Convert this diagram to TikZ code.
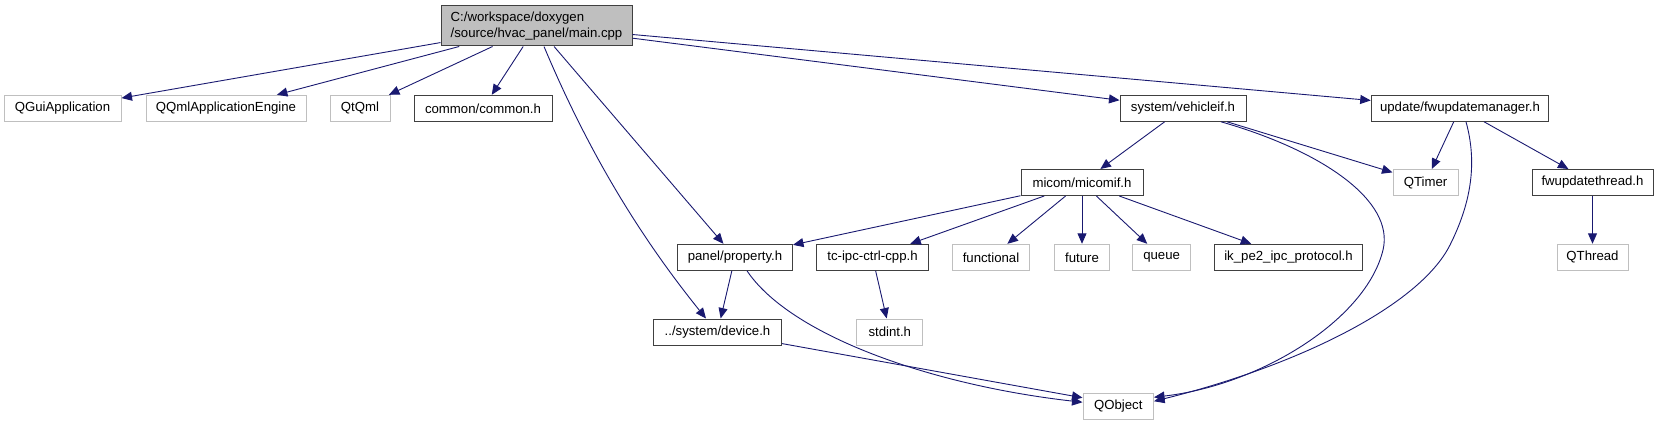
\documentclass[tikz,border=0pt]{standalone}
\usepackage{fontspec}
\setmainfont{Liberation Sans}
\usetikzlibrary{arrows.meta}
\definecolor{edgeblue}{HTML}{191970}
\definecolor{extgrey}{HTML}{BFBFBF}
\definecolor{docborder}{HTML}{404040}
\begin{document}
\begin{tikzpicture}[x=1pt,y=-1pt,
  font=\fontsize{13.2}{15.5}\selectfont,
  box/.style={inner sep=0pt, minimum height=26pt, line width=1pt, fill=white, text=black},
  doc/.style={box, draw=docborder},
  ext/.style={box, draw=extgrey},
  mainbox/.style={box, draw=docborder, fill=extgrey, align=left, minimum height=40pt},
  edge/.style={draw=edgeblue, line width=0.9pt, -{Triangle[length=10.5pt,width=9pt]}}]
\useasboundingbox (0,0) rectangle (1658,425);
% nodes
\node[mainbox, minimum width=191pt] (main) at (536.5,26) {C:/workspace/doxygen\\/source/hvac\_panel/main.cpp};
\node[ext, minimum width=117pt] (qgui) at (62.5,108.3) {QGuiApplication};
\node[ext, minimum width=160pt] (qqml) at (226,108.3) {QQmlApplicationEngine};
\node[ext, minimum width=60pt] (qtqml) at (360,108.3) {QtQml};
\node[doc, minimum width=138pt] (common) at (483,108.3) {common/common.h};
\node[doc, minimum width=126pt] (vehicleif) at (1183,108.3) {system/vehicleif.h};
\node[doc, minimum width=177.5pt] (fwmgr) at (1460,108.3) {update/fwupdatemanager.h};
\node[doc, minimum width=122pt] (micomif) at (1082,182.5) {micom/micomif.h};
\node[ext, minimum width=65pt] (qtimer) at (1425.5,182.5) {QTimer};
\node[doc, minimum width=121pt] (fwthread) at (1592.5,182.5) {fwupdatethread.h};
\node[doc, minimum width=115pt] (property) at (735,257.3) {panel/property.h};
\node[doc, minimum width=112pt] (tcipc) at (872.5,257.3) {tc-ipc-ctrl-cpp.h};
\node[ext, minimum width=77.5pt] (functional) at (991,257.3) {functional};
\node[ext, minimum width=54.5pt] (future) at (1082,257.3) {future};
\node[ext, minimum width=58pt] (queue) at (1161.6,257.3) {queue};
\node[doc, minimum width=148pt] (ikpe2) at (1288.5,257.3) {ik\_pe2\_ipc\_protocol.h};
\node[ext, minimum width=71pt] (qthread) at (1592.5,257.3) {QThread};
\node[doc, minimum width=128pt] (device) at (717.5,332) {../system/device.h};
\node[ext, minimum width=66pt] (stdint) at (889.8,332) {stdint.h};
\node[ext, minimum width=70.5pt] (qobject) at (1118.25,406.25) {QObject};
% edges from main
\draw[edge] (main) -- (qgui);
\draw[edge] (main) -- (qqml);
\draw[edge] (main) -- (qtqml);
\draw[edge] (main) -- (common);
\draw[edge] ([xshift=7.5pt]main.south) .. controls (590,156) and (642,239) .. ([xshift=-11.5pt]device.north);
\draw[edge] (main) -- (property);
\draw[edge] (main) -- (vehicleif);
\draw[edge] (main) -- (fwmgr);
% vehicleif
\draw[edge] (vehicleif) -- (micomif);
\draw[edge] (vehicleif) -- (qtimer);
\draw[edge] ([xshift=38pt]vehicleif.south) .. controls (1320,150) and (1395,200) .. (1383,250) .. controls (1366,320) and (1260,385) .. ([yshift=9pt]qobject.east);
% fwupdatemanager
\draw[edge] (fwmgr) -- (qtimer);
\draw[edge] ([xshift=6pt]fwmgr.south) .. controls (1478,165) and (1470,205) .. (1450,245) .. controls (1420,305) and (1300,365) .. ([yshift=5pt]qobject.east);
\draw[edge] (fwmgr) -- (fwthread);
\draw[edge] (fwthread) -- (qthread);
% micomif
\draw[edge] (micomif) -- (property);
\draw[edge] (micomif) -- (tcipc);
\draw[edge] (micomif) -- (functional);
\draw[edge] (micomif) -- (future);
\draw[edge] (micomif) -- (queue);
\draw[edge] (micomif) -- (ikpe2);
% property, device, tc-ipc
\draw[edge] (property) -- (device);
\draw[edge] ([xshift=12pt]property.south) .. controls (790,335) and (930,385) .. ([yshift=4pt]qobject.west);
\draw[edge] (device) -- ([yshift=8.5pt]qobject.west);
\draw[edge] (tcipc) -- (stdint);
\end{tikzpicture}
\end{document}
